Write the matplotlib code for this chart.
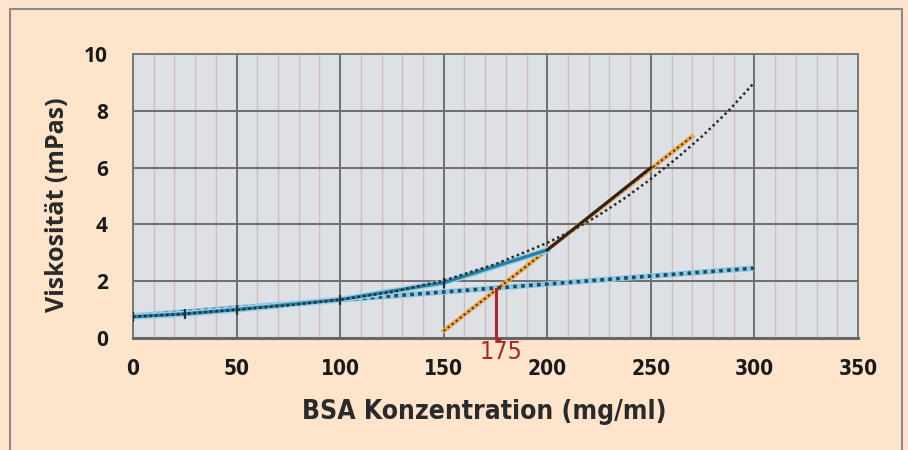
"""Viskosität von BSA-Lösungen gegen Konzentration."""
import matplotlib
matplotlib.use("Agg")
import matplotlib.pyplot as plt
from matplotlib.patches import Rectangle

# measured points (mg/ml, mPas)
conc = [0, 25, 50, 100, 150, 200, 250]
visc = [0.75, 0.85, 1.0, 1.35, 1.95, 3.1, 6.0]

# polynomial trend
trend_x = [0, 25, 50, 75, 100, 125, 150, 175, 200, 212.5, 225, 237.5,
           250, 262.5, 275, 287.5, 300]
trend_y = [0.75, 0.85, 1.0, 1.15, 1.35, 1.62, 2.02, 2.6, 3.35, 3.8, 4.33, 4.93,
           5.6, 6.33, 7.12, 8.0, 9.0]

# linear fit of the low-concentration range
lin_x = [0, 300]
lin_y = [0.78, 2.46]

# tangent of the high-concentration range
tan_x = [150, 270]
tan_y = [0.25, 7.1]

# crossing point
cross_x = 175
cross_y = 1.72

xticks = [0, 50, 100, 150, 200, 250, 300, 350]
yticks = [0, 2, 4, 6, 8, 10]

narrow = dict(family='DejaVu Sans', stretch='condensed')

fig = plt.figure(figsize=(9.08, 4.5), dpi=100)
fig.patch.set_facecolor('#FEE4CB')
fig.patches.append(Rectangle((10 / 908, -0.05), 892 / 908, 1.03,
                             transform=fig.transFigure, fill=False,
                             edgecolor='#8A8A8A', linewidth=1.5))

ax = fig.add_axes([133 / 908, 112 / 450, 725 / 908, 284 / 450])
ax.set_facecolor('#DDE0E4')
ax.set_xlim(0, 350)
ax.set_ylim(0, 10)

# grid
for xm in range(10, 350, 10):
    if xm % 50:
        ax.axvline(xm, color='#CDBFBB', lw=1.0, zorder=1)
for xv in xticks[1:-1]:
    ax.axvline(xv, color='#6E6E6E', lw=1.4, zorder=1)
for yv in yticks[1:-1]:
    ax.axhline(yv, color='#6E6E6E', lw=1.4, zorder=1)

for side in ['top', 'right', 'left']:
    ax.spines[side].set_color('#777777')
    ax.spines[side].set_linewidth(1.4)
ax.spines['bottom'].set_color('#666666')
ax.spines['bottom'].set_linewidth(2.2)

# linear trend
ax.plot(lin_x, lin_y, color='#8CC8E0', lw=4, zorder=3, solid_capstyle='butt')
ax.plot(lin_x, lin_y, color='#1F4A66', lw=2.6, ls=(0, (1, 1.2)), zorder=4)

# tangent
ax.plot(tan_x, tan_y, color='#F0A848', lw=3.2, zorder=3)
ax.plot(tan_x, tan_y, color='#5A3A2A', lw=1.6, ls=(0, (1, 1.3)), zorder=4)

# measured data
ax.plot(conc[:6], visc[:6], color='#9AD2E8', lw=4.5, zorder=5)
ax.plot(conc[:6], visc[:6], color='#2A7FA5', lw=2.4, zorder=6)
ax.plot(conc[5:], visc[5:], color='#2E2220', lw=2.2, zorder=6)
ax.plot(conc[:5], visc[:5], ls='none', marker='|', ms=7, mew=1.6,
        color='#203040', zorder=7)

# polynomial trend
ax.plot(trend_x, trend_y, color='#2B2B2B', lw=1.8, ls=(0, (1, 1.2)), zorder=8)

# crossing marker
ax.plot([cross_x, cross_x, cross_x + 1.5], [cross_y, -0.05, -0.05],
        color='#A8282A', lw=2.2, zorder=9, clip_on=False)
ax.text(cross_x + 2.5, -0.08, '175', color='#A8282A', fontsize=18,
        ha='center', va='top', **narrow)

ax.set_xticks(xticks)
ax.set_yticks(yticks)
ax.tick_params(length=0)
ax.tick_params(axis='x', pad=15)
ax.tick_params(axis='y', pad=18)
for lab in ax.get_xticklabels():
    lab.set_fontsize(15)
    lab.set_fontweight('bold')
    lab.set_family(narrow['family'])
    lab.set_stretch(narrow['stretch'])
    lab.set_color('#1A1A1A')
for lab in ax.get_yticklabels():
    lab.set_fontsize(15)
    lab.set_fontweight('bold')
    lab.set_family(['Open Sans', 'DejaVu Sans'])
    lab.set_color('#1A1A1A')

fig.text(484 / 908, 1 - 412 / 450, 'BSA Konzentration (mg/ml)', fontsize=19,
         fontweight='bold', ha='center', va='center', color='#2A2A2A', **narrow)
fig.text(57 / 908, 1 - 205 / 450, 'Viskosität (mPas)', fontsize=18,
         fontweight='bold', ha='center', va='center', rotation=90,
         color='#2A2A2A', family=['Open Sans', 'DejaVu Sans'])

fig.savefig('out.png', dpi=100, facecolor=fig.get_facecolor())
